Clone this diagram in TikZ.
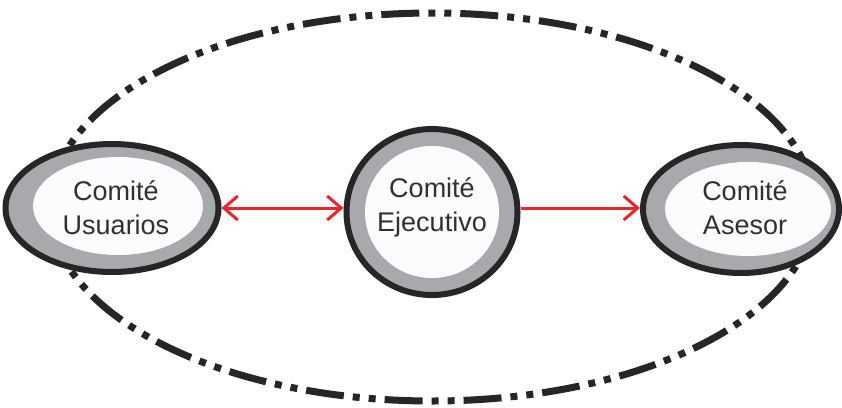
\documentclass[tikz,border=0pt]{standalone}
\usepackage{fontspec}
\setmainfont{Liberation Sans}
\usetikzlibrary{shapes.geometric,arrows.meta}
\definecolor{ringdark}{HTML}{262626}
\definecolor{ringgray}{HTML}{A7A9AC}
\definecolor{innerw}{HTML}{FBFCFD}
\definecolor{arrred}{HTML}{E8262B}
\definecolor{txt}{HTML}{303030}
\tikzset{
  outerring/.style={ellipse, draw=ringdark, fill=ringgray, line width=6pt, inner sep=0pt},
  innerfill/.style={ellipse, fill=innerw, draw=none, inner sep=0pt},
  lbl/.style={align=center, text=txt, font=\fontsize{27}{34}\selectfont, inner sep=0pt},
  bigloop/.style={draw=ringdark, line width=7pt, dash pattern=on 38pt off 9pt on 7pt off 9pt on 7pt off 9pt},
  link/.style={draw=arrred, line width=3pt},
  barb/.style={Straight Barb[length=16pt,width=24pt,line width=3.5pt]}
}
\begin{document}
\begin{tikzpicture}[x=1pt,y=-1pt]
\useasboundingbox (0,0) rectangle (842,407);
\draw[bigloop] (432,207) ellipse [x radius=382, y radius=194];
% left node
\node[outerring, minimum width=213pt, minimum height=128pt] (U) at (112,208) {};
\node[innerfill, minimum width=170pt, minimum height=98pt] (Uin) at (118,206) {};
\node[lbl] (Ut) at (116,208) {Comité\\Usuarios};
% centre node
\node[outerring, minimum width=171pt, minimum height=166pt] (E) at (432,212) {};
\node[innerfill, minimum width=134pt, minimum height=132pt] (Ein) at (432,212) {};
\node[lbl] (Et) at (432,207) {Comité\\Ejecutivo};
% right node
\node[outerring, minimum width=196pt, minimum height=128pt] (A) at (741,209) {};
\node[innerfill, minimum width=166pt, minimum height=94pt] (Ain) at (748,209) {};
\node[lbl] (At) at (745,208) {Comité\\Asesor};
% connectors
\draw[link, {Straight Barb[length=14pt,width=24pt]}-{Straight Barb[length=14pt,width=24pt]}] (U.east) -- (U.east -| E.west);
\draw[link, -{Straight Barb[length=14pt,width=24pt]}] (U.east -| E.east) -- (U.east -| A.west);
\end{tikzpicture}
\end{document}
